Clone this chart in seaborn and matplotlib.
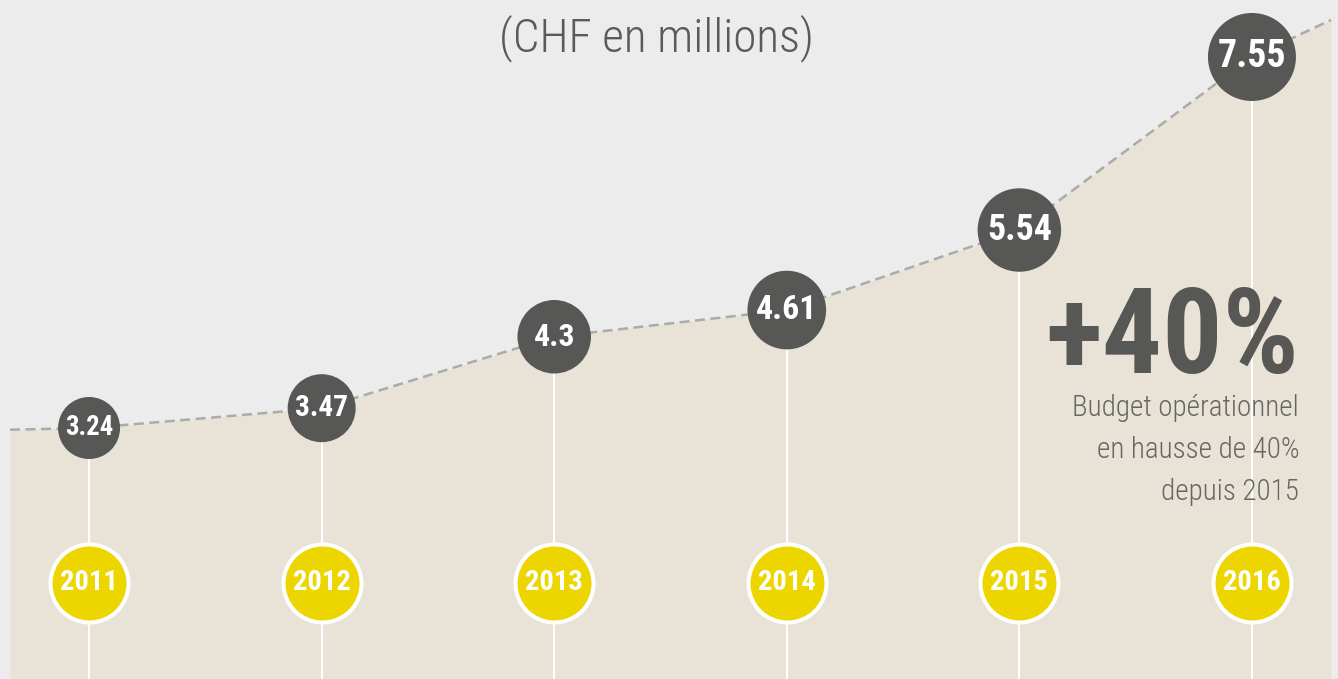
import numpy as np
import matplotlib
matplotlib.use("Agg")
import matplotlib.pyplot as plt
import seaborn as sns
from matplotlib import font_manager

# data
years = [2011, 2012, 2013, 2014, 2015, 2016]
budget = [3.24, 3.47, 4.3, 4.61, 5.54, 7.55]
budget_labels = ["3.24", "3.47", "4.3", "4.61", "5.54", "7.55"]
# where the dashed line runs off at both edges
edge_years = [2010.66, 2016.34]
edge_budget = [3.22, 7.98]

title = "(CHF en millions)"
big_note = "+40%"
note_lines = ["Budget opérationnel", "en hausse de 40%", "depuis 2015"]

# colours
bg = "#ECECEC"
sand = "#E8E3D6"
dark = "#575756"
yellow = "#EDD500"
dash_grey = "#ABABAB"

sns.set_style("white")

# pick a condensed face if there is one
names = {f.name for f in font_manager.fontManager.ttflist}
if "Roboto Condensed" in names:
    cond = dict(family="Roboto Condensed")
elif "Liberation Sans Narrow" in names:
    cond = dict(family="Liberation Sans Narrow")
else:
    cond = dict(family="DejaVu Sans", stretch="condensed")

fig = plt.figure(figsize=(13.38, 6.79), dpi=100)
fig.patch.set_facecolor(bg)
ax = fig.add_axes([0, 0, 1, 1])
ax.set_facecolor(bg)

xlim = (2010.617, 2016.37)
ylim = (0.324, 8.212)

line_x = [edge_years[0]] + years + [edge_years[1]]
line_y = [edge_budget[0]] + budget + [edge_budget[1]]

# sand area under the line
ax.fill_between(line_x, line_y, ylim[0], color=sand, lw=0, zorder=1)

# white stems down from every value bubble
ax.vlines(years, ylim[0], budget, color="white", lw=1.4, zorder=2)

sns.lineplot(x=line_x, y=line_y, sort=False, color=dash_grey, lw=1.8,
             linestyle=(0, (4, 2.2)), ax=ax, zorder=3)

# value bubbles, growing year by year
sns.scatterplot(x=years, y=budget, size=years, sizes=(1993, 4014),
                color=dark, linewidth=0, legend=False, ax=ax, zorder=4)

# year bubbles near the bottom
ytr = ax.get_xaxis_transform()
sns.scatterplot(x=years, y=[0.1414] * len(years), s=3154, color=yellow,
                edgecolor="white", linewidth=2.9, transform=ytr,
                legend=False, ax=ax, zorder=4)

for i, (yr, v, lab) in enumerate(zip(years, budget, budget_labels)):
    s = 1993 + i / (len(years) - 1) * (4014 - 1993)
    r_px = np.sqrt(s) / 0.72 / 2
    ax.text(yr, v, lab, color="white", fontsize=0.62 * r_px, fontweight="bold",
            ha="center", va="center", zorder=5, **cond)
    ax.text(yr, 0.1414, str(yr), color="white", fontsize=20.5, fontweight="bold",
            ha="center", va="center", transform=ytr, zorder=5, **cond)

ax.text(0.491, 0.925, title, transform=ax.transAxes, ha="center", va="baseline",
        color="#5A5A5A", fontsize=34, fontweight="light", **cond)
ax.text(0.971, 1 - 373 / 679, big_note, transform=ax.transAxes, ha="right",
        va="baseline", color=dark, fontsize=86, fontweight="bold", **cond)
for k, line in enumerate(note_lines):
    ax.text(0.971, 1 - (416 + 42 * k) / 679, line, transform=ax.transAxes,
            ha="right", va="baseline", color="#666666", fontsize=21,
            fontweight="light", **cond)

ax.set_xlim(*xlim)
ax.set_ylim(*ylim)
ax.set_axis_off()

fig.savefig("out.png", dpi=100, facecolor=bg)
